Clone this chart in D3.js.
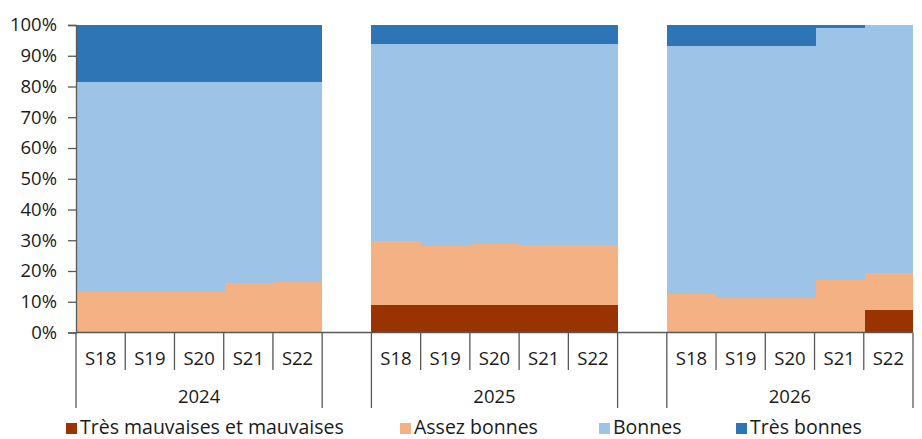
<!DOCTYPE html>
<html>
<head>
<meta charset="utf-8">
<script src="https://cdn.jsdelivr.net/npm/d3@7"></script>
<style>
  body { margin: 0; background: #fff; }
  svg { display: block; font-family: "Open Sans", sans-serif; }
</style>
</head>
<body>
<svg id="chart" width="922" height="439"></svg>
<script>
const years = ["2024", "2025", "2026"];
const weeks = ["S18", "S19", "S20", "S21", "S22"];
const seriesNames = ["Très mauvaises et mauvaises", "Assez bonnes", "Bonnes", "Très bonnes"];
const colors = ["#993300", "#F4B183", "#9DC3E6", "#2E75B6"];
// values per year, S18..S22 (%)
const tresMauvaises = {
  "2024": [0, 0, 0, 0, 0],
  "2025": [8.9, 8.9, 8.9, 8.9, 8.9],
  "2026": [0, 0, 0, 0, 7.2]
};
const assezBonnes = {
  "2024": [13.1, 13.1, 13.1, 16.2, 16.5],
  "2025": [20.8, 19.3, 19.8, 19.4, 19.4],
  "2026": [12.5, 11.3, 11.3, 17.0, 12.1]
};
const bonnes = {
  "2024": [68.3, 68.3, 68.3, 65.2, 64.9],
  "2025": [64.1, 65.6, 65.1, 65.5, 65.5],
  "2026": [80.7, 81.9, 81.9, 81.9, 80.7]
};
const tresBonnes = {
  "2024": [18.6, 18.6, 18.6, 18.6, 18.6],
  "2025": [6.2, 6.2, 6.2, 6.2, 6.2],
  "2026": [6.8, 6.8, 6.8, 1.1, 0]
};
const yTicks = [0, 10, 20, 30, 40, 50, 60, 70, 80, 90, 100];

(function () {
const svg = d3.select("#chart");
const mLeft = 76, mRight = 913, mTop = 25, mBottom = 332.5;

// build slot domain: 5 weeks per year with one empty slot between years
const slots = [];
years.forEach((yr, i) => {
  weeks.forEach(w => slots.push(yr + "|" + w));
  if (i < years.length - 1) slots.push("gap" + i);
});
const x = d3.scaleBand().domain(slots).range([mLeft, mRight]).paddingInner(0).paddingOuter(0);
const y = d3.scaleLinear().domain([0, 100]).range([mBottom, mTop]);

const rows = [];
years.forEach(yr => {
  weeks.forEach((w, j) => {
    rows.push({
      key: yr + "|" + w,
      s0: tresMauvaises[yr][j],
      s1: assezBonnes[yr][j],
      s2: bonnes[yr][j],
      s3: tresBonnes[yr][j]
    });
  });
});
const stack = d3.stack().keys(["s0", "s1", "s2", "s3"]);
const stacked = stack(rows);

const lastWeek = weeks[weeks.length - 1];
svg.append("g").attr("shape-rendering", "crispEdges")
  .selectAll("g").data(stacked).join("g")
  .attr("fill", (d, i) => colors[i])
  .selectAll("rect").data(d => d).join("rect")
  .attr("x", d => x(d.data.key))
  .attr("width", d => x.bandwidth() + (d.data.key.endsWith(lastWeek) ? 0 : 1))
  .attr("y", d => y(d[1]))
  .attr("height", d => Math.max(0, y(d[0]) - y(d[1])));

const lineColor = "#595959";
const textColor = "#1a1a1a";

// Y axis
const yAxis = d3.axisLeft(y).tickValues(yTicks).tickFormat(d => d + "%").tickSize(8).tickPadding(11);
const gy = svg.append("g").attr("transform", `translate(${mLeft},0)`).call(yAxis);
gy.select(".domain").attr("stroke", lineColor).attr("stroke-width", 1.3);
gy.selectAll(".tick line").attr("stroke", lineColor).attr("stroke-width", 1.3);
gy.selectAll(".tick text").attr("fill", textColor).style("font-size", "18.5px").style("font-family", "'Open Sans', sans-serif");

// X axis line
svg.append("line").attr("x1", mLeft).attr("x2", mRight).attr("y1", y(0)).attr("y2", y(0))
  .attr("stroke", lineColor).attr("stroke-width", 1.3);

const g = svg.append("g");
years.forEach(yr => {
  const x0 = x(yr + "|" + weeks[0]);
  const x1 = x(yr + "|" + lastWeek) + x.bandwidth();
  [x0, x1].forEach(xx => {
    g.append("line").attr("x1", xx).attr("x2", xx).attr("y1", y(0)).attr("y2", 408)
      .attr("stroke", lineColor).attr("stroke-width", 1.3);
  });
  weeks.forEach((w, j) => {
    const xs = x(yr + "|" + w);
    if (j > 0) {
      g.append("line").attr("x1", xs).attr("x2", xs).attr("y1", y(0)).attr("y2", 370)
        .attr("stroke", lineColor).attr("stroke-width", 1.3);
    }
    g.append("text").attr("x", xs + x.bandwidth() / 2).attr("y", 357)
      .attr("text-anchor", "middle").attr("dominant-baseline", "central")
      .attr("fill", textColor).style("font-size", "18.5px").text(w);
  });
  g.append("text").attr("x", (x0 + x1) / 2).attr("y", 395)
    .attr("text-anchor", "middle").attr("dominant-baseline", "central")
    .attr("fill", textColor).style("font-size", "18.5px").text(yr);
});

// Legend
const legendX = [66, 400, 599, 736];
const lg = svg.append("g");
seriesNames.forEach((name, i) => {
  lg.append("rect").attr("x", legendX[i]).attr("y", 423).attr("width", 11).attr("height", 11).attr("fill", colors[i]);
  lg.append("text").attr("x", legendX[i] + 14).attr("y", 434)
    .attr("fill", textColor)
    .style("font-size", "19.5px").text(name);
});
})();
</script>
</body>
</html>
